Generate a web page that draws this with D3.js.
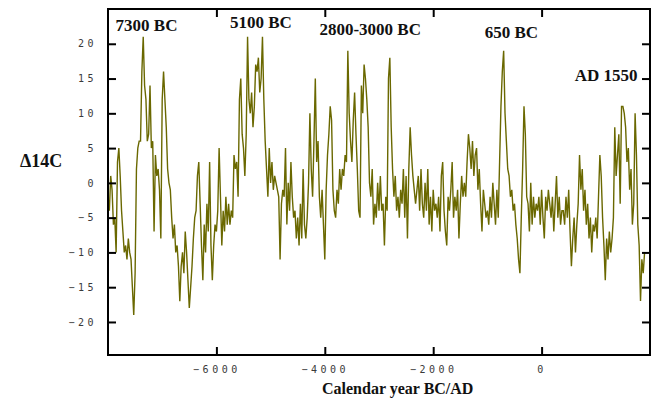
<!DOCTYPE html>
<html>
<head>
<meta charset="utf-8">
<script src="https://cdn.jsdelivr.net/npm/d3@7"></script>
<style>
  body { margin: 0; background: #fff; }
  .tick text { font-family: "DejaVu Sans Mono", monospace; font-size: 10px; fill: #3a3a3a; letter-spacing: 3.5px; }
  .lbl { font-family: "Liberation Serif", "Times New Roman", serif; font-weight: bold; fill: #111; }
</style>
</head>
<body>
<div id="chart"></div>
<script>
// Delta 14C record, one value every 25 years starting at 8000 BC
let firstYear = -8000,
    yearStep = 25;
let delta14c = [
  -2,-4,1,-1,-6,-5,-10,3,5,1,
  -4,-7,-10,-9,-11,-8,-10,-11,-15,-19,
  -13,2,5,6,6,16,21,14,12,6,
  7,14,5,6,-7,4,1,2,-1,-8,
  12,16,12,8,2,0,-1,-5,-8,-6,
  -10,-9,-12,-17,-12,-10,-13,-7,-10,-14,
  -18,-15,-12,-8,-5,-4,1,3,
  -3,-9,-14,-6,-10,-3,-7,3,-9,-14,
  -9,-6,-7,-4,5,-2,-9,-4,-7,-2,
  -6,-3,-6,-4,-5,4,2,3,-2,12,
  15,7,5,1,7,21,12,10,13,8,
  11,17,16,18,13,15,21,12,6,2,
  -2,5,0,3,-1,1,0,-1,-2,-11,
  -3,-1,-2,5,-6,0,-4,
  3,-2,-5,-4,-8,-5,-9,-3,-8,2,
  -6,-8,-5,0,10,2,-2,6,15,3,
  6,-2,-5,-1,-6,-11,-1,4,7,11,
  9,-1,-4,-5,-1,-3,2,-1,2,1,
  4,3,19,10,6,3,9,13,7,2,
  -4,-5,14,10,17,15,12,8,0,-2,
  2,-6,-3,-5,0,-4,1,
  -4,-3,-9,-2,-4,15,18,8,2,-2,
  1,-4,-2,-5,-1,-3,2,-5,1,-8,
  2,8,4,1,-1,-3,-1,1,-4,2,
  -3,-5,0,-4,2,-6,-2,-7,-1,-4,
  -3,-5,-2,-7,1,3,-4,-7,-9,-2,
  -4,-1,3,-5,-2,-4,-1,-8,-3,1,
  -2,0,-2,3,7,5,2,
  6,1,4,5,-1,2,-3,-7,-1,-3,
  -5,-4,-6,-2,-5,0,-3,-6,-1,-5,
  3,11,16,19,10,6,2,1,-2,-1,
  -4,-3,-6,-8,-11,-13,-5,2,11,7,
  -2,-3,-7,0,-6,-2,-5,-3,-4,-2,
  -6,-1,-5,-8,-2,-4,-1,-3,-5,-2,
  -7,-3,1,-5,-2,-6,-4,
  -4,-6,-2,-5,-1,-7,-12,-8,-5,-10,
  -6,-3,4,-1,2,-4,-1,-6,-3,-8,
  -5,-10,-6,-7,-5,-8,-2,4,1,-5,
  -9,-14,-8,-11,-7,-10,-8,-5,8,1,
  4,7,-3,11,11,10,8,3,5,-1,
  2,-6,-3,10,4,-6,-9,-17,-11,-13,
  -10
];
let xTicks = [-6000, -4000, -2000, 0];
let yTicks = [-20, -15, -10, -5, 0, 5, 10, 15, 20];
// labels for the big peaks: text, where it starts (year) and its baseline (delta value)
let eventLabels = ["7300 BC", "5100 BC", "2800-3000 BC", "650 BC", "AD 1550"];
let eventYears = [-7860, -5750, -4100, -1050, 610];
let eventLevels = [21.8, 22.3, 21.3, 20.8, 14.6];

let margin = { top: 9, right: 5, bottom: 45, left: 108 },
    width = 655 - margin.left - margin.right,
    height = 400 - margin.top - margin.bottom;

let x = d3.scaleLinear().domain([-8000, 2000]).range([0, width]);
let y = d3.scaleLinear().domain([-24.75, 25]).range([height, 0]);

let svg = d3.select("#chart").append("svg")
    .attr("width", 655)
    .attr("height", 400)
    .append("g")
    .attr("transform", "translate(" + margin.left + "," + margin.top + ")");

let series = delta14c.map(function(v, i) { return { year: firstYear + i * yearStep, value: v }; });

let line = d3.line()
    .x(function(d) { return x(d.year); })
    .y(function(d) { return y(d.value); });

svg.append("path")
    .datum(series)
    .attr("fill", "none")
    .attr("stroke", "#6a6800")
    .attr("stroke-width", 1.4)
    .attr("d", line);

// axes, ticks pointing inward
let fmt = function(d) { return d3.format("d")(d).replace("-", "\u2212"); };

svg.append("g")
    .call(d3.axisLeft(y).tickValues(yTicks).tickSize(-8).tickPadding(11).tickFormat(fmt));
svg.append("g")
    .attr("transform", "translate(" + width + ",0)")
    .call(d3.axisRight(y).tickValues(yTicks).tickSize(-8).tickFormat(""));
svg.append("g")
    .attr("transform", "translate(0," + height + ")")
    .call(d3.axisBottom(x).tickValues(xTicks).tickSize(-8).tickPadding(11).tickFormat(fmt));
svg.append("g")
    .call(d3.axisTop(x).tickValues(xTicks).tickSize(-8).tickFormat(""));

svg.selectAll(".domain").remove();
svg.selectAll(".tick line").attr("stroke", "#000").attr("stroke-width", 2);

svg.append("rect")
    .attr("width", width)
    .attr("height", height)
    .attr("fill", "none")
    .attr("stroke", "#000")
    .attr("stroke-width", 2);

// event labels
svg.selectAll(".event")
    .data(eventLabels)
    .enter()
    .append("text")
    .attr("class", "lbl")
    .attr("x", function(d, i) { return x(eventYears[i]); })
    .attr("y", function(d, i) { return y(eventLevels[i]); })
    .style("font-size", "17px")
    .text(function(d) { return d; });

// axis titles
svg.append("text")
    .attr("class", "lbl")
    .attr("x", 322 - margin.left)
    .attr("y", 394 - margin.top)
    .style("font-size", "16px")
    .text("Calendar year BC/AD");

svg.append("text")
    .attr("class", "lbl")
    .attr("x", 20 - margin.left)
    .attr("y", 167 - margin.top)
    .style("font-size", "18px")
    .text("\u039414C");
</script>
</body>
</html>
